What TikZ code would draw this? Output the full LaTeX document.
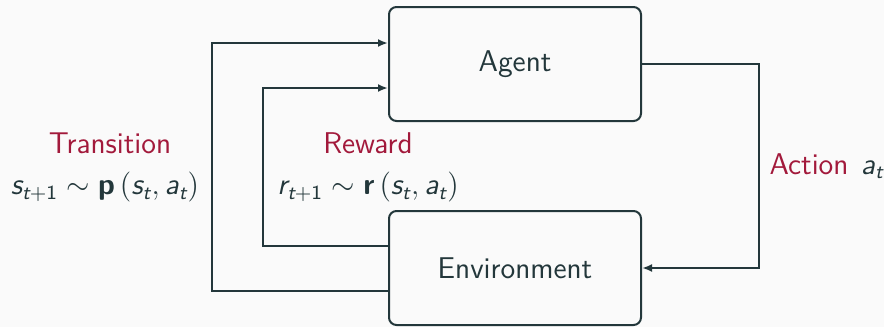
\documentclass[tikz,border=0pt]{standalone}
\usepackage{amsmath}
\usetikzlibrary{arrows.meta}
\definecolor{fg}{HTML}{23373B}
\definecolor{alert}{HTML}{A2193B}
\definecolor{bg}{HTML}{FAFAFA}
\renewcommand{\familydefault}{\sfdefault}
% sans italic variables, as in a sans-serif slide theme
\newcommand{\vr}[1]{\textit{#1}}
\tikzset{
  block/.style={draw=fg, line width=0.8pt, rounded corners=3pt,
    minimum width=100.8pt, minimum height=45.6pt, font=\large, text=fg},
  arr/.style={draw=fg, line width=0.8pt, -{Latex[length=4pt,width=3.2pt]}},
  lbl/.style={text=alert, font=\large, inner sep=0pt},
  eqn/.style={text=fg, font=\large, inner sep=0pt},
}
\begin{document}
\begin{tikzpicture}[x=0.4pt, y=-0.4pt]
  \useasboundingbox[fill=bg] (0,0) rectangle (884,327);

  \node[block] (agent) at (515,64) {Agent};
  \node[block] (env) at (515,268) {Environment};

  % state transition loop (outer)
  \draw[arr] ([yshift=-9.2pt]env.west) -| ([xshift=-70.4pt,yshift=8.4pt]agent.west)
    -- ([yshift=8.4pt]agent.west);
  % reward loop (inner)
  \draw[arr] ([yshift=8.8pt]env.west) -| ([xshift=-50pt,yshift=-9.6pt]agent.west)
    -- ([yshift=-9.6pt]agent.west);
  % action
  \draw[arr] (agent.east) -- ++(46.8pt,0) |- (env.east);

  \node[lbl] (tlab) at (110,143) {Transition};
  \node[eqn] (teq) at (105,187)
    {$\vr{s}_{\vr{t}\textup{+1}}\sim\textbf{p}\left(\vr{s}_{\vr{t}},\vr{a}_{\vr{t}}\right)$};
  \node[lbl] (rlab) at (368,143) {Reward};
  \node[eqn] (req) at (368,187)
    {$\vr{r}_{\vr{t}\textup{+1}}\sim\textbf{r}\left(\vr{s}_{\vr{t}},\vr{a}_{\vr{t}}\right)$};
  \node[lbl, anchor=west] (alab) at (769,166)
    {Action\hspace{5pt}\textcolor{fg}{$\vr{a}_{\vr{t}}$}};
\end{tikzpicture}
\end{document}
